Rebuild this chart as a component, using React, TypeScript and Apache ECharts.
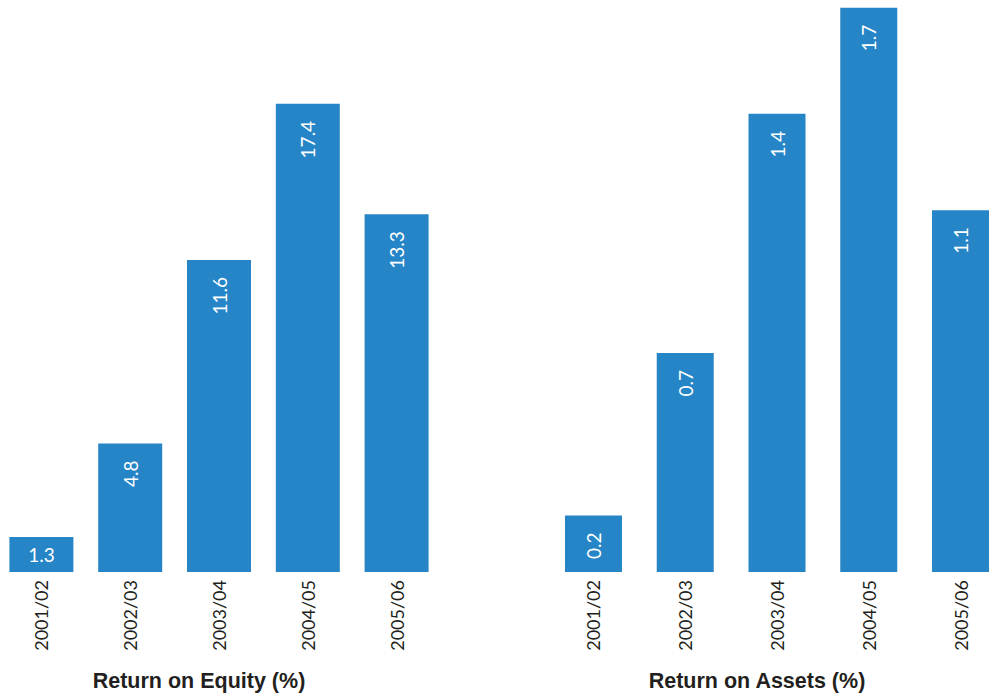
import React, { useEffect, useRef } from "react";
import * as echarts from "echarts";

const categories = ["2001/02", "2002/03", "2003/04", "2004/05", "2005/06"];
const equityValues = [1.3, 4.78, 11.6, 17.4, 13.3];
const assetsValues = [0.17, 0.66, 1.38, 1.7, 1.09];
const equityTitle = "Return on Equity (%)";
const assetsTitle = "Return on Assets (%)";

const BAR = "#2585C7";
const INK = "#231F20";
const OFF = 20; // chart canvas is shifted left by this many px

export default function App() {
  const ref = useRef<HTMLDivElement>(null);
  useEffect(() => {
    if (!ref.current) return;
    const chart = echarts.init(ref.current, null, { renderer: "svg" });
    const xAxisCommon = {
      type: "category" as const,
      data: categories,
      axisLine: { show: false },
      axisTick: { show: false },
      axisLabel: {
        rotate: 90,
        margin: 8,
        fontSize: 18,
        color: INK,
        fontFamily: "Lato, 'Liberation Sans', sans-serif",
      },
    };
    const valueLabel = {
      show: true,
      position: "insideTop" as const,
      rotate: 90,
      align: "right" as const,
      verticalAlign: "middle" as const,
      distance: 17,
      color: "#ffffff",
      fontSize: 19,
      fontFamily: "Lato, 'Liberation Sans', sans-serif",
      formatter: (p: any) => Number(p.value).toFixed(1),
    };
    const titleStyle = {
      align: "center",
      verticalAlign: "middle",
      fontSize: 21.5,
      fontWeight: "bold",
      fill: INK,
      fontFamily: "'Liberation Sans', Arial, sans-serif",
    };
    chart.setOption({
      animation: false,
      grid: [
        { left: -3 + OFF, width: 444, top: 0, height: 572 },
        { left: 547.6 + OFF, width: 458.8, top: 0, height: 572 },
      ],
      xAxis: [
        { ...xAxisCommon, gridIndex: 0 },
        { ...xAxisCommon, gridIndex: 1 },
      ],
      yAxis: [
        { type: "value", gridIndex: 0, min: 0, max: 21.26, show: false, splitLine: { show: false } },
        { type: "value", gridIndex: 1, min: 0, max: 1.723, show: false, splitLine: { show: false } },
      ],
      series: [
        {
          type: "bar",
          xAxisIndex: 0,
          yAxisIndex: 0,
          barWidth: 64,
          itemStyle: { color: BAR },
          label: valueLabel,
          data: equityValues.map((v, i) =>
            i === 0
              ? {
                  value: v,
                  label: {
                    position: "inside",
                    rotate: 0,
                    align: "center",
                    verticalAlign: "middle",
                  },
                }
              : v
          ),
        },
        {
          type: "bar",
          xAxisIndex: 1,
          yAxisIndex: 1,
          barWidth: 57,
          itemStyle: { color: BAR },
          label: valueLabel,
          data: assetsValues,
        },
      ],
      graphic: [
        { type: "text", x: 199 + OFF, y: 681, style: { ...titleStyle, text: equityTitle } },
        { type: "text", x: 757 + OFF, y: 681, style: { ...titleStyle, text: assetsTitle } },
      ],
    });
    return () => chart.dispose();
  }, []);
  return (
    <div
      style={{
        position: "fixed",
        left: 0,
        top: 0,
        width: 991,
        height: 698,
        overflow: "hidden",
        background: "#ffffff",
      }}
    >
      <div
        ref={ref}
        style={{ position: "absolute", left: -OFF, top: 0, width: 1040, height: 698 }}
      />
    </div>
  );
}
